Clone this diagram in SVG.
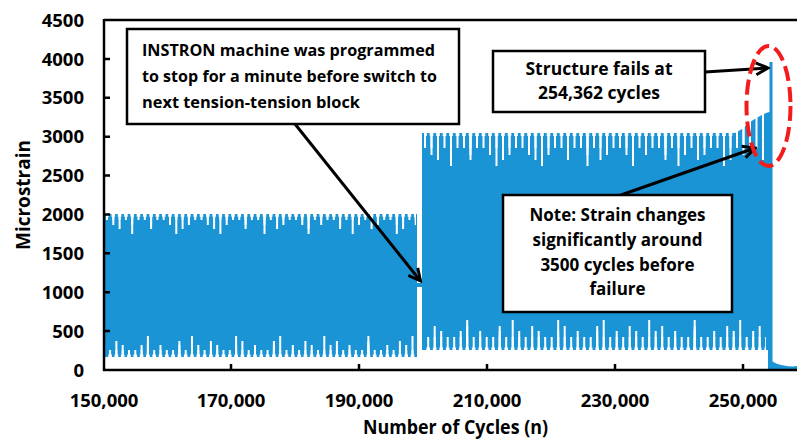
<svg xmlns="http://www.w3.org/2000/svg" width="797" height="441" viewBox="0 0 797 441">
  <style>
    .t { font-family: "Open Sans", "Liberation Sans", sans-serif; font-weight: 700; fill: #000; }
    .tick { font-size: 18.5px; }
    .note { font-size: 16.5px; }
    .note2 { font-size: 17px; }
    .box { fill: #fff; stroke: #000; stroke-width: 2.5; }
    .ax { stroke: #000; stroke-width: 2.5; fill: none; }
    .sig { fill: #1a94d4; }
    .comb { stroke: #fff; fill: none; }
    .conn { stroke: #000; stroke-width: 3; fill: none; marker-end: url(#head); }
  </style>
  <defs>
    <marker id="head" viewBox="0 0 16 16" refX="14" refY="8" markerWidth="16" markerHeight="16" markerUnits="userSpaceOnUse" orient="auto">
      <path d="M2,2 L14,8 L2,14" fill="none" stroke="#000" stroke-width="3" stroke-linejoin="miter"/>
    </marker>
  </defs>

  <rect width="797" height="441" fill="#fff"/>

  <!-- strain signal: first block (~2000 peak), pause, second block (~3050 peak), failure spike -->
  <g id="signal">
    <rect class="sig" x="104" y="214" width="313" height="143"/>
    <rect class="sig" x="417" y="283" width="5" height="4"/>
    <path class="sig" d="M422,133 H735 L742,129 L750,122 L758,117 L766,113 L769.5,112 V62 H772.5 V369 H768 V350 H422 Z"/>
    <path class="sig" d="M772,369 V361 Q776,364 784,365.5 T797,366 V369 Z"/>

    <!-- block 1 peaks (top comb) -->
    <line class="comb" x1="106" x2="416" y1="216" y2="216" stroke-width="8" stroke-dasharray="2 4.3"/>
    <line class="comb" x1="106" x2="416" y1="218.5" y2="218.5" stroke-width="13" stroke-dasharray="2 16.9" stroke-dashoffset="-6.3"/>
    <line class="comb" x1="106" x2="416" y1="220.5" y2="220.5" stroke-width="17" stroke-dasharray="2 29.5" stroke-dashoffset="-12.6"/>
    <line class="comb" x1="106" x2="416" y1="223" y2="223" stroke-width="22" stroke-dasharray="2 42.1" stroke-dashoffset="-25.2"/>
    <line class="comb" x1="106" x2="416" y1="215.2" y2="215.2" stroke-width="3" stroke-dasharray="3.6 2.7" stroke-dashoffset="0.8"/>
    <!-- block 1 valleys (bottom comb) -->
    <line class="comb" x1="106" x2="416" y1="354" y2="354" stroke-width="8" stroke-dasharray="2 4.3" stroke-dashoffset="-3.1"/>
    <line class="comb" x1="106" x2="416" y1="351.5" y2="351.5" stroke-width="13" stroke-dasharray="2 16.9" stroke-dashoffset="-15.7"/>
    <line class="comb" x1="106" x2="416" y1="349.5" y2="349.5" stroke-width="17" stroke-dasharray="2 29.5" stroke-dashoffset="-9.4"/>
    <line class="comb" x1="106" x2="416" y1="347" y2="347" stroke-width="22" stroke-dasharray="2 42.1" stroke-dashoffset="-40.9"/>
    <line class="comb" x1="106" x2="416" y1="356" y2="356" stroke-width="3" stroke-dasharray="3.6 2.7" stroke-dashoffset="4"/>

    <!-- block 2 peaks (top comb) -->
    <line class="comb" x1="424" x2="767" y1="126.5" y2="126.5" stroke-width="43" stroke-dasharray="2 4.5"/>
    <line class="comb" x1="424" x2="767" y1="130" y2="130" stroke-width="50" stroke-dasharray="2 17.5" stroke-dashoffset="-6.5"/>
    <line class="comb" x1="424" x2="767" y1="132.5" y2="132.5" stroke-width="55" stroke-dasharray="2 30.5" stroke-dashoffset="-13"/>
    <line class="comb" x1="424" x2="767" y1="135.5" y2="135.5" stroke-width="61" stroke-dasharray="2 43.5" stroke-dashoffset="-26"/>
    <line class="comb" x1="424" x2="735" y1="134.5" y2="134.5" stroke-width="3" stroke-dasharray="3.6 2.9" stroke-dashoffset="0.8"/>
    <!-- block 2 valleys (bottom comb) -->
    <line class="comb" x1="424" x2="766" y1="344" y2="344" stroke-width="14" stroke-dasharray="2 4.5" stroke-dashoffset="-3.2"/>
    <line class="comb" x1="424" x2="766" y1="341" y2="341" stroke-width="20" stroke-dasharray="2 17.5" stroke-dashoffset="-16.2"/>
    <line class="comb" x1="424" x2="766" y1="338.5" y2="338.5" stroke-width="25" stroke-dasharray="2 30.5" stroke-dashoffset="-9.7"/>
    <line class="comb" x1="424" x2="766" y1="335.5" y2="335.5" stroke-width="31" stroke-dasharray="2 43.5" stroke-dashoffset="-42.2"/>
    <line class="comb" x1="424" x2="766" y1="349" y2="349" stroke-width="3" stroke-dasharray="3.6 2.9" stroke-dashoffset="4.1"/>
  </g>

  <!-- axes, frame and ticks -->
  <g id="axes">
    <path class="ax" d="M104,20 H797 M104,19 V371 M103,370 H797"/>
    <path class="ax" d="M104,331.1 h6 M104,292.2 h6 M104,253.3 h6 M104,214.4 h6 M104,175.6 h6 M104,136.7 h6 M104,97.8 h6 M104,58.9 h6"/>
    <path class="ax" d="M231,370 v-6 M359,370 v-6 M487,370 v-6 M615,370 v-6 M743,370 v-6"/>
    <g class="t tick" text-anchor="end">
      <text x="84" y="377">0</text>
      <text x="84" y="338">500</text>
      <text x="84" y="299">1000</text>
      <text x="84" y="260">1500</text>
      <text x="84" y="221">2000</text>
      <text x="84" y="182">2500</text>
      <text x="84" y="143">3000</text>
      <text x="84" y="104">3500</text>
      <text x="84" y="66">4000</text>
      <text x="84" y="27">4500</text>
    </g>
    <g class="t tick" text-anchor="middle">
      <text x="104" y="407">150,000</text>
      <text x="231" y="407">170,000</text>
      <text x="359" y="407">190,000</text>
      <text x="487" y="407">210,000</text>
      <text x="615" y="407">230,000</text>
      <text x="743" y="407">250,000</text>
    </g>
    <text class="t" font-size="19" text-anchor="middle" x="455.5" y="434" textLength="185" lengthAdjust="spacingAndGlyphs">Number of Cycles (n)</text>
    <text class="t" font-size="19" text-anchor="middle" transform="translate(30,195) rotate(-90)" textLength="110" lengthAdjust="spacingAndGlyphs">Microstrain</text>
  </g>

  <!-- connectors from the notes to the curve -->
  <g id="connectors">
    <line class="conn" x1="295" y1="124" x2="420.5" y2="281"/>
    <line class="conn" x1="705" y1="72" x2="768" y2="68"/>
    <line class="conn" x1="621" y1="195" x2="755" y2="148"/>
  </g>

  <g id="note-instron">
    <rect class="box" x="127" y="29" width="332" height="95"/>
    <g class="t note">
      <text x="142" y="56" textLength="293" lengthAdjust="spacingAndGlyphs">INSTRON machine was programmed</text>
      <text x="142" y="82" textLength="295" lengthAdjust="spacingAndGlyphs">to stop for a minute before switch to</text>
      <text x="142" y="108" textLength="218" lengthAdjust="spacingAndGlyphs">next tension-tension block</text>
    </g>
  </g>

  <g id="note-failure">
    <rect class="box" x="493" y="51" width="212" height="61"/>
    <g class="t" font-size="17.5" text-anchor="middle">
      <text x="599" y="75">Structure fails at</text>
      <text x="599" y="99">254,362 cycles</text>
    </g>
  </g>

  <g id="note-strain">
    <rect class="box" x="503" y="195" width="229" height="117"/>
    <g class="t note2" text-anchor="middle">
      <text x="617.5" y="221">Note: Strain changes</text>
      <text x="617.5" y="246">significantly around</text>
      <text x="617.5" y="271">3500 cycles before</text>
      <text x="617.5" y="295">failure</text>
    </g>
  </g>

  <!-- dashed highlight around the failure region -->
  <g id="failure-highlight">
    <ellipse cx="768.5" cy="106" rx="22" ry="60" fill="none" stroke="#f21c1c" stroke-width="4" stroke-dasharray="15 6"/>
  </g>
</svg>
